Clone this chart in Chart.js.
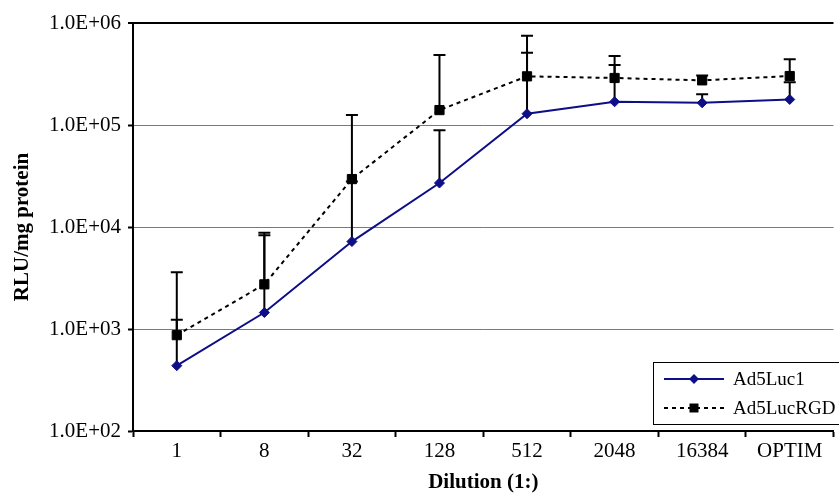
<!DOCTYPE html>
<html>
<head>
<meta charset="utf-8">
<script src="https://cdn.jsdelivr.net/npm/chart.js"></script>
<style>
  * { margin: 0; padding: 0; }
  body { background: #fff; overflow: hidden; }
  .chartBox { width: 841px; height: 493px; }
</style>
</head>
<body>
<div class="chartBox"><canvas id="chart"></canvas></div>
<script>
// data
const dilutions = ['1', '8', '32', '128', '512', '2048', '16384', 'OPTIM'];
const luc1 = [437, 1450, 7200, 27000, 129000, 169000, 165000, 178000];
const luc1Upper = [1230, 8300, 28000, 89000, 510000, 387000, 200000, 263000];
const rgd = [870, 2740, 29500, 140000, 300000, 289000, 274000, 302000];
const rgdUpper = [3600, 8800, 125000, 485000, 750000, 475000, 305000, 441000];
const yTickValues = [1e2, 1e3, 1e4, 1e5, 1e6];
const yTickLabels = ['1.0E+02', '1.0E+03', '1.0E+04', '1.0E+05', '1.0E+06'];

const serif = '"Liberation Serif", "Times New Roman", serif';
const navy = '#0e0e86';

// error bars (plus side only, like excel)
const errorBars = {
  id: 'errorBars',
  beforeDatasetsDraw(chart) {
    const ctx = chart.ctx;
    const y = chart.scales.y;
    const uppers = [luc1Upper, rgdUpper];
    ctx.save();
    ctx.strokeStyle = '#000';
    ctx.lineWidth = 2;
    chart.data.datasets.forEach((ds, di) => {
      const meta = chart.getDatasetMeta(di);
      meta.data.forEach((pt, i) => {
        const top = y.getPixelForValue(uppers[di][i]);
        ctx.beginPath();
        ctx.moveTo(pt.x, pt.y);
        ctx.lineTo(pt.x, top);
        ctx.moveTo(pt.x - 6, top);
        ctx.lineTo(pt.x + 6, top);
        ctx.stroke();
      });
    });
    ctx.restore();
  }
};

// boxed legend inside the plot, bottom right
const boxLegend = {
  id: 'boxLegend',
  afterDraw(chart) {
    const ctx = chart.ctx;
    const bx = 653, by = 362, bw = 200, bh = 62;
    ctx.save();
    ctx.fillStyle = '#fff';
    ctx.fillRect(bx, by, bw, bh);
    ctx.strokeStyle = '#000';
    ctx.lineWidth = 1;
    ctx.strokeRect(bx + 0.5, by + 0.5, bw, bh);
    chart.data.datasets.forEach((ds, i) => {
      const ly = by + 17 + i * 29;
      ctx.strokeStyle = ds.borderColor;
      ctx.lineWidth = 2;
      ctx.setLineDash(ds.borderDash || []);
      ctx.beginPath();
      ctx.moveTo(664, ly);
      ctx.lineTo(724, ly);
      ctx.stroke();
      ctx.setLineDash([]);
      ctx.fillStyle = ds.borderColor;
      ctx.beginPath();
      if (ds.pointStyle === 'rectRot') {
        ctx.moveTo(694, ly - 5); ctx.lineTo(699, ly); ctx.lineTo(694, ly + 5); ctx.lineTo(689, ly);
      } else {
        ctx.rect(689.5, ly - 4.5, 9, 9);
      }
      ctx.fill();
      ctx.fillStyle = '#000';
      ctx.font = '19px ' + serif;
      ctx.textBaseline = 'middle';
      ctx.fillText(ds.label, 733, ly + 1);
    });
    ctx.restore();
  }
};

const data = {
  labels: dilutions,
  datasets: [{
    label: 'Ad5Luc1',
    data: luc1,
    borderColor: navy,
    backgroundColor: navy,
    borderWidth: 2,
    pointStyle: 'rectRot',
    pointRadius: 5,
    pointBorderWidth: 1,
    tension: 0
  }, {
    label: 'Ad5LucRGD',
    data: rgd,
    borderColor: '#000',
    backgroundColor: '#000',
    borderWidth: 2,
    borderDash: [4, 4],
    pointStyle: 'rect',
    pointRadius: 6.5,
    pointBorderWidth: 1,
    tension: 0
  }]
};

const config = {
  type: 'line',
  data,
  options: {
    responsive: true,
    maintainAspectRatio: false,
    animation: false,
    layout: { padding: { top: 23, right: 0, bottom: 0, left: 0 } },
    plugins: {
      legend: { display: false },
      tooltip: { enabled: false }
    },
    scales: {
      x: {
        type: 'category',
        offset: true,
        grid: { offset: true, drawOnChartArea: false, tickLength: 6, tickColor: '#000', tickWidth: 2 },
        border: { color: '#000', width: 2 },
        ticks: { color: '#000', font: { family: serif, size: 21 }, padding: 2, maxRotation: 0 },
        title: {
          display: true,
          text: 'Dilution (1:)',
          color: '#000',
          font: { family: serif, size: 21, weight: 'bold', lineHeight: 1 },
          padding: { top: 0, bottom: 0 }
        },
        afterFit: (s) => { s.height = 62; }
      },
      y: {
        type: 'logarithmic',
        min: 100,
        max: 1e6,
        afterBuildTicks: (s) => { s.ticks = yTickValues.map(v => ({ value: v })); },
        grid: {
          color: (c) => (c.tick && c.tick.value === 1e6 ? '#000' : '#7a7a7a'),
          lineWidth: (c) => (c.tick && c.tick.value === 1e6 ? 2 : 1),
          tickColor: '#000',
          tickLength: 5,
          tickWidth: 2
        },
        border: { color: '#000', width: 2 },
        ticks: {
          color: '#000',
          font: { family: serif, size: 21 },
          padding: 7,
          autoSkip: false,
          callback: (v, i) => yTickLabels[i]
        },
        title: {
          display: true,
          text: 'RLU/mg protein',
          color: '#000',
          font: { family: serif, size: 21, weight: 'bold', lineHeight: 1 },
          padding: { top: 12, bottom: 0 }
        },
        afterFit: (s) => { s.width = 133; }
      }
    }
  },
  plugins: [errorBars, boxLegend]
};

const chart = new Chart(document.getElementById('chart'), config);
</script>
</body>
</html>
